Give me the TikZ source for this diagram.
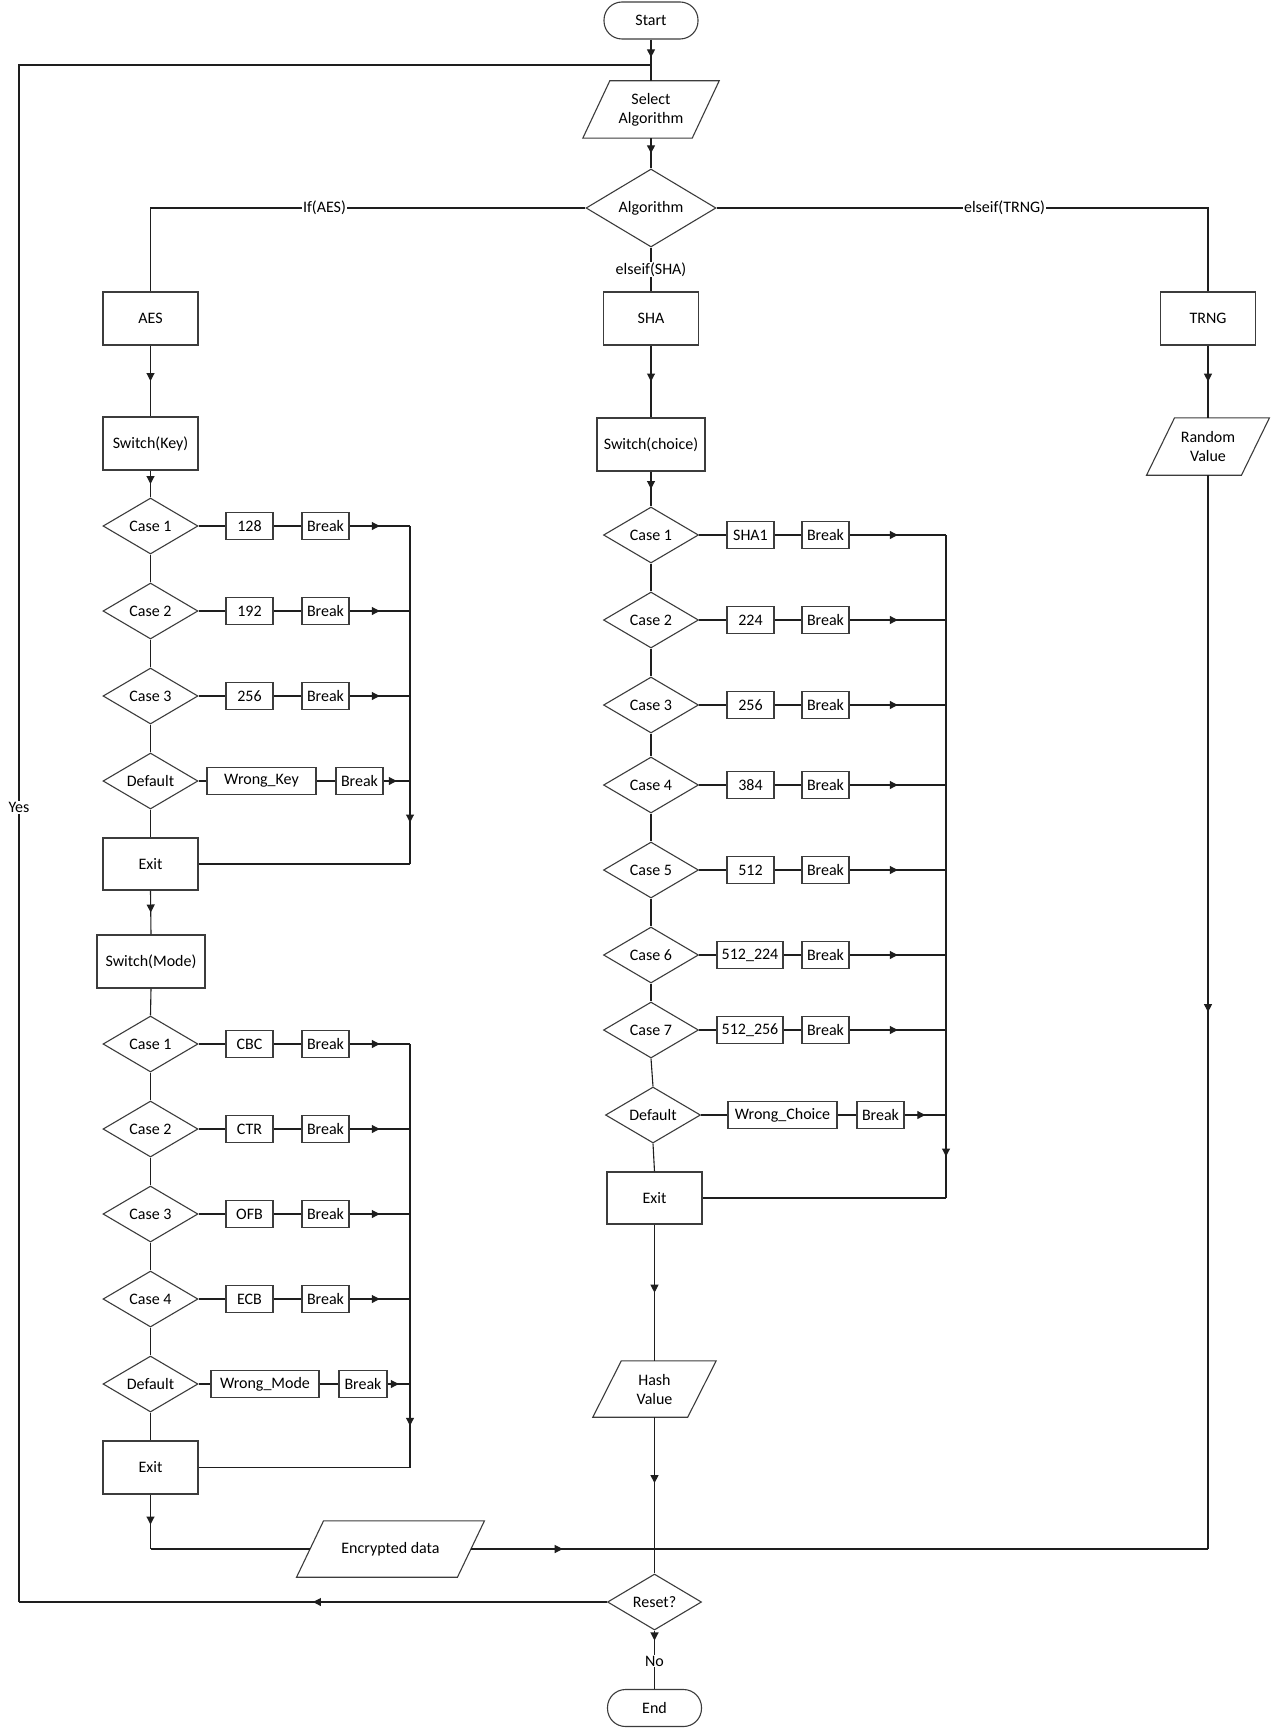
\documentclass[tikz,border=0pt]{standalone}
\usepackage{fontspec}
\setmainfont{Carlito}
\usetikzlibrary{shapes.geometric,arrows.meta,decorations.markings}
\definecolor{lc}{RGB}{30,30,30}
\definecolor{bc}{RGB}{60,60,60}
\newcommand\drawpara[2]{\draw[draw=bc, line width=1.1pt] ([xshift=-#2]#1.south west) -- ([xshift=#2]#1.north west) -- ([xshift=#2]#1.north east) -- ([xshift=-#2]#1.south east) -- cycle;}
\begin{document}
\begin{tikzpicture}[x=1pt,y=-1pt,
  font=\fontsize{16}{19}\selectfont,
  ln/.style={draw=lc, line width=1.1pt},
  base/.style={draw=bc, line width=1.1pt, fill=white, text=black},
  term/.style={base, rectangle, rounded corners=18pt, minimum width=94pt, minimum height=37pt},
  proc/.style={base, rectangle, minimum width=95pt, minimum height=53pt},
  val/.style={base, rectangle, minimum width=47pt, minimum height=27pt, inner sep=2pt},
  dec/.style={base, diamond, inner sep=0pt, minimum width=95pt, minimum height=56pt, shape aspect=1.7},
  io/.style={rectangle, minimum height=57pt, align=center, inner sep=2pt, text=black},
  lbl/.style={fill=white, inner sep=1pt, text=black},
  arrat/.style={postaction={decorate, decoration={markings, mark=at position #1 with {\arrow{Triangle[length=8pt,width=8pt]}}}}},
  arrat/.default=0.5]

\fill[white] (0,0) rectangle (1270,1728);
\useasboundingbox (0,0) rectangle (1270,1728);

% coordinates
\coordinate (j1) at (651,65);
\coordinate (yb) at (19,1602);
\coordinate (yt) at (19,65);
\coordinate (ja) at (150.5,1549);
\coordinate (jm) at (654.5,1549);
\coordinate (jt) at (1208,1549);
\coordinate (kbus) at (410,0);
\coordinate (sbus) at (946,0);

% top
\node[term] (start) at (651,20.5) {Start};
\node[io, minimum width=109pt] (sel) at (651,109.5) {Select\\Algorithm};
\drawpara{sel}{13.5pt}
\node[dec, minimum width=130pt, minimum height=78pt, shape aspect=1.67] (alg) at (651,208) {Algorithm};
\node[proc] (aes) at (150.5,318.5) {AES};
\node[proc] (sha) at (651,318.5) {SHA};
\node[proc] (trng) at (1208,318.5) {TRNG};
\node[proc] (swk) at (150.5,443.5) {Switch(Key)};
\node[proc, minimum width=108pt] (swc) at (651,444.5) {Switch(choice)};
\node[io, minimum width=94.5pt] (rv) at (1208,446.5) {Random\\Value};
\drawpara{rv}{14pt}

\draw[ln, arrat=0.7] (start.south) -- (j1);
\draw[ln] (j1) -- (sel.north);
\draw[ln, arrat] (sel.south) -- (alg.north);
\draw[ln] (alg.west) -| node[lbl, pos=0.3] {If(AES)} (aes.north);
\draw[ln] (alg.south) -- node[lbl] {elseif(SHA)} (sha.north);
\draw[ln] (alg.east) -| node[lbl, pos=0.293] {elseif(TRNG)} (trng.north);
\draw[ln, arrat] (aes.south) -- (swk.north);
\draw[ln, arrat] (sha.south) -- (swc.north);
\draw[ln, arrat] (trng.south) -- (rv.north);

% AES key switch
\foreach \i/\y/\v in {1/526/128, 2/611/192, 3/696/256} {
  \node[dec] (k\i) at (150.5,\y) {Case \i};
  \node[val] (kv\i) at (249.5,\y) {\v};
  \node[val] (kb\i) at (325.5,\y) {Break};
  \draw[ln] (k\i.east) -- (kv\i.west);
  \draw[ln] (kv\i.east) -- (kb\i.west);
  \draw[ln, arrat] (kb\i.east) -- (kb\i.east -| kbus);
}
\node[dec] (kd) at (150.5,781) {Default};
\node[val, minimum width=109pt] (kvd) at (261.5,781) {Wrong\_Key};
\node[val] (kbd) at (359.5,781) {Break};
\draw[ln] (kd.east) -- (kvd.west);
\draw[ln] (kvd.east) -- (kbd.west);
\draw[ln, arrat] (kbd.east) -- (kbd.east -| kbus);
\node[proc, minimum height=52pt] (ke) at (150.5,864) {Exit};
\draw[ln, arrat] (swk.south) -- (k1.north);
\draw[ln] (k1.south) -- (k2.north);
\draw[ln] (k2.south) -- (k3.north);
\draw[ln] (k3.south) -- (kd.north);
\draw[ln] (kd.south) -- (ke.north);
\draw[ln] (kb1.east -| kbus) -- (kbd.east -| kbus);
\draw[ln, arrat] (kbd.east -| kbus) -- (ke.east -| kbus);
\draw[ln] (ke.east -| kbus) -- (ke.east);

% AES mode switch
\node[proc, minimum width=108pt] (swm) at (151,961.5) {Switch(Mode)};
\draw[ln, arrat] (ke.south) -- (swm.north);
\foreach \i/\y/\v in {1/1044/CBC, 2/1129/CTR, 3/1214/OFB, 4/1299/ECB} {
  \node[dec] (m\i) at (150.5,\y) {Case \i};
  \node[val] (mv\i) at (249.5,\y) {\v};
  \node[val] (mb\i) at (325.5,\y) {Break};
  \draw[ln] (m\i.east) -- (mv\i.west);
  \draw[ln] (mv\i.east) -- (mb\i.west);
  \draw[ln, arrat] (mb\i.east) -- (mb\i.east -| kbus);
}
\node[dec] (md) at (150.5,1384) {Default};
\node[val, minimum width=108pt] (mvd) at (265,1384) {Wrong\_Mode};
\node[val, minimum width=48pt] (mbd) at (363,1384) {Break};
\draw[ln] (md.east) -- (mvd.west);
\draw[ln] (mvd.east) -- (mbd.west);
\draw[ln, arrat] (mbd.east) -- (mbd.east -| kbus);
\node[proc] (me) at (150.5,1467.5) {Exit};
\draw[ln] (swm.south) -- (m1.north);
\draw[ln] (m1.south) -- (m2.north);
\draw[ln] (m2.south) -- (m3.north);
\draw[ln] (m3.south) -- (m4.north);
\draw[ln] (m4.south) -- (md.north);
\draw[ln] (md.south) -- (me.north);
\draw[ln] (mb1.east -| kbus) -- (mbd.east -| kbus);
\draw[ln, arrat] (mbd.east -| kbus) -- (me.east -| kbus);
\draw[ln] (me.east -| kbus) -- (me.east);

% SHA switch
\foreach \i/\y/\v/\w in {1/535/SHA1/47, 2/620/224/47, 3/705/256/47, 4/785/384/47, 5/870/512/47} {
  \node[dec] (s\i) at (651,\y) {Case \i};
  \node[val, minimum width=\w pt] (sv\i) at (750.5,\y) {\v};
  \node[val] (sb\i) at (825.5,\y) {Break};
  \draw[ln] (s\i.east) -- (sv\i.west);
  \draw[ln] (sv\i.east) -- (sb\i.west);
  \draw[ln, arrat] (sb\i.east) -- (sb\i.east -| sbus);
}
\foreach \i/\y/\v in {6/955/512\_224, 7/1030/512\_256} {
  \node[dec] (s\i) at (651,\y) {Case \i};
  \node[val, minimum width=66pt] (sv\i) at (750,\y) {\v};
  \node[val] (sb\i) at (825.5,\y) {Break};
  \draw[ln] (s\i.east) -- (sv\i.west);
  \draw[ln] (sv\i.east) -- (sb\i.west);
  \draw[ln, arrat] (sb\i.east) -- (sb\i.east -| sbus);
}
\node[dec] (sd) at (653,1115) {Default};
\node[val, minimum width=109pt] (svd) at (782.5,1115) {Wrong\_Choice};
\node[val] (sbd) at (880.5,1115) {Break};
\draw[ln] (sd.east) -- (svd.west);
\draw[ln] (svd.east) -- (sbd.west);
\draw[ln, arrat] (sbd.east) -- (sbd.east -| sbus);
\node[proc, minimum height=52pt] (se) at (654.5,1198) {Exit};
\draw[ln, arrat] (swc.south) -- (s1.north);
\draw[ln] (s1.south) -- (s2.north);
\draw[ln] (s2.south) -- (s3.north);
\draw[ln] (s3.south) -- (s4.north);
\draw[ln] (s4.south) -- (s5.north);
\draw[ln] (s5.south) -- (s6.north);
\draw[ln] (s6.south) -- (s7.north);
\draw[ln] (s7.south) -- (sd.north);
\draw[ln] (sd.south) -- (se.north);
\draw[ln] (sb1.east -| sbus) -- (sbd.east -| sbus);
\draw[ln, arrat] (sbd.east -| sbus) -- (se.east -| sbus);
\draw[ln] (se.east -| sbus) -- (se.east);

% bottom
\node[io, minimum width=94.5pt, minimum height=56pt] (hv) at (654.5,1389) {Hash\\Value};
\drawpara{hv}{14.25pt}
\node[io, minimum width=160.5pt, minimum height=56pt] (ed) at (390.5,1549) {Encrypted data};
\drawpara{ed}{13.5pt}
\node[dec, minimum width=94pt, minimum height=56pt, shape aspect=1.68] (reset) at (654.5,1602) {Reset?};
\node[term] (end) at (654.5,1708) {End};

\draw[ln, arrat] (se.south) -- (hv.north);
\draw[ln, arrat] (hv.south) -- (jm);
\draw[ln] (jm) -- (reset.north);
\draw[ln, arrat=0.55] (me.south) -- (ja);
\draw[ln] (ja) -- (ed.west);
\draw[ln, arrat] (ed.east) -- (jm);
\draw[ln, arrat] (rv.south) -- (jt);
\draw[ln] (jt) -- (jm);
\draw[ln, arrat] (reset.west) -- (yb);
\draw[ln] (yb) -- node[lbl, pos=0.517] {Yes} (yt) -- (j1);
\draw[ln, arrat=0.17] (reset.south) -- node[lbl, pos=0.52] {No} (end.north);

\end{tikzpicture}
\end{document}
